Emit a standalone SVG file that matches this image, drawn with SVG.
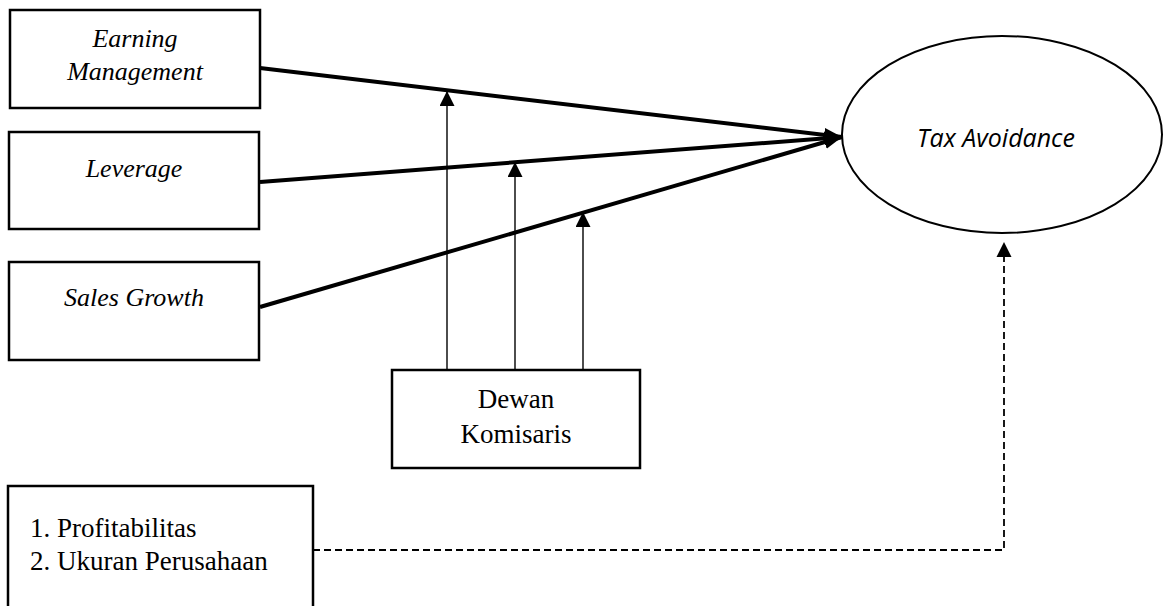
<svg xmlns="http://www.w3.org/2000/svg" width="1168" height="606" viewBox="0 0 1168 606">
<style>
.box{fill:#fff;stroke:#000;stroke-width:2.5}
.it{font-family:"Liberation Serif",serif;font-style:italic;font-size:26px;fill:#000}
.rm{font-family:"Liberation Serif",serif;font-size:27px;fill:#000}
.main{stroke:#000;stroke-width:4;fill:none}
.mod{stroke:#000;stroke-width:1.4;fill:none}
.dash{stroke:#000;stroke-width:1.8;fill:none;stroke-dasharray:7 4}
</style>
<defs>
<marker id="big" markerUnits="userSpaceOnUse" markerWidth="18" markerHeight="14" refX="18" refY="7" orient="auto"><path d="M0,0 L18,7 L0,14 Z" fill="#000"/></marker>
<marker id="small" markerUnits="userSpaceOnUse" markerWidth="15" markerHeight="15" refX="15" refY="7.5" orient="auto"><path d="M0,0 L15,7.5 L0,15 Z" fill="#000"/></marker>
</defs>
<g id="connectors">
<line class="main" x1="260" y1="68" x2="842" y2="137" marker-end="url(#big)"/>
<line class="main" x1="260" y1="182" x2="842" y2="137" marker-end="url(#big)"/>
<line class="main" x1="260" y1="307" x2="842" y2="137" marker-end="url(#big)"/>
<line class="mod" x1="447" y1="370" x2="447" y2="91" marker-end="url(#small)"/>
<line class="mod" x1="515" y1="370" x2="515" y2="162" marker-end="url(#small)"/>
<line class="mod" x1="583" y1="370" x2="583" y2="212" marker-end="url(#small)"/>
<polyline class="dash" points="313,550 1004,550 1004,256"/>
<path d="M996.5,257 L1004,242 L1011.5,257 Z" fill="#000"/>
</g>
<g id="earning">
<rect class="box" x="10" y="10" width="250" height="98"/>
<text class="it" x="135" y="47" text-anchor="middle">Earning</text>
<text class="it" x="135" y="80" text-anchor="middle">Management</text>
</g>
<g id="leverage">
<rect class="box" x="9" y="132" width="250" height="97"/>
<text class="it" x="134" y="177" text-anchor="middle">Leverage</text>
</g>
<g id="sales">
<rect class="box" x="9" y="262" width="250" height="98"/>
<text class="it" x="134" y="306" text-anchor="middle">Sales Growth</text>
</g>
<g id="dewan">
<rect class="box" x="392" y="370" width="248" height="98"/>
<text class="rm" x="516" y="408" text-anchor="middle">Dewan</text>
<text class="rm" x="516" y="443" text-anchor="middle">Komisaris</text>
</g>
<g id="control">
<rect class="box" x="8" y="486" width="305" height="130"/>
<text class="rm" x="30" y="537">1. Profitabilitas</text>
<text class="rm" x="30" y="570">2. Ukuran Perusahaan</text>
</g>
<g id="tax">
<ellipse cx="1002" cy="134.5" rx="160" ry="98.5" fill="#fff" stroke="#000" stroke-width="2"/>
<text x="996" y="147" text-anchor="middle" font-family="Open Sans, sans-serif" font-style="italic" font-size="25" fill="#000">Tax Avoidance</text>
</g>
</svg>
